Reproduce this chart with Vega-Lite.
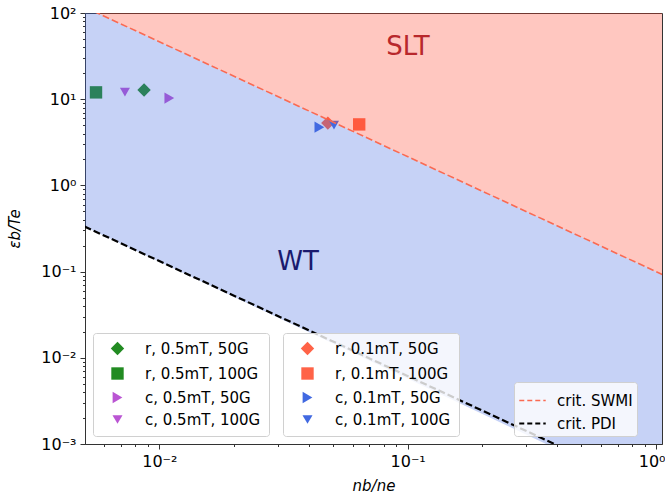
{
  "$schema": "https://vega.github.io/schema/vega-lite/v6.json",
  "width": 577,
  "height": 431,
  "autosize": {"type": "none"},
  "padding": {"left": 85, "top": 13, "right": 3, "bottom": 52},
  "background": "white",
  "config": {
    "font": "DejaVu Sans",
    "view": {"stroke": "#333333", "strokeWidth": 1},
    "axis": {
      "labelFont": "DejaVu Sans", "labelFontSize": 16, "labelColor": "black",
      "titleFont": "DejaVu Sans", "titleFontSize": 15, "titleFontStyle": "italic",
      "titleFontWeight": "normal", "titleColor": "black",
      "tickColor": "#333333", "domainColor": "#333333", "grid": false, "tickSize": 5
    }
  },
  "datasets": {
    "pts": [
      {"label": "r, 0.1mT, 50G", "group": "0.1mT", "x": 0.0477, "y": 5.28},
      {"label": "r, 0.1mT, 100G", "group": "0.1mT", "x": 0.0638, "y": 5.1},
      {"label": "c, 0.1mT, 50G", "group": "0.1mT", "x": 0.0441, "y": 4.74},
      {"label": "c, 0.1mT, 100G", "group": "0.1mT", "x": 0.0505, "y": 5.0},
      {"label": "r, 0.5mT, 50G", "group": "0.5mT", "x": 0.00868, "y": 12.8},
      {"label": "r, 0.5mT, 100G", "group": "0.5mT", "x": 0.00556, "y": 12.0},
      {"label": "c, 0.5mT, 50G", "group": "0.5mT", "x": 0.01097, "y": 10.3},
      {"label": "c, 0.5mT, 100G", "group": "0.5mT", "x": 0.00727, "y": 12.1}
    ],
    "lines": [
      {"crit": "crit. SWMI", "x": 0.005, "y": 117.0},
      {"crit": "crit. SWMI", "x": 1.06, "y": 0.0925},
      {"crit": "crit. PDI", "x": 0.005, "y": 0.3334},
      {"crit": "crit. PDI", "x": 0.39, "y": 0.001}
    ],
    "fills": [
      {"region": "SLT", "x": 0.005, "lo": 117.0, "hi": 1000},
      {"region": "SLT", "x": 1.06, "lo": 0.0925, "hi": 1000},
      {"region": "WT", "x": 0.005, "lo": 0.3334, "hi": 117.0},
      {"region": "WT", "x": 0.39, "lo": 0.0009, "hi": 0.3509},
      {"region": "WT", "x": 1.06, "lo": 0.0009, "hi": 0.0925}
    ],
    "notes": [
      {"label": "SLT", "x": 0.1003, "y": 40.6},
      {"label": "WT", "x": 0.0362, "y": 0.129}
    ]
  },
  "layer": [
    {
      "data": {"name": "pts"},
      "transform": [{"filter": "datum.group === '0.5mT'"}],
      "mark": {"type": "point", "filled": true, "opacity": 1, "clip": true},
      "encoding": {
        "x": {
          "field": "x", "type": "quantitative",
          "scale": {"type": "log", "domain": [0.00502, 1.057], "nice": false},
          "axis": {
            "title": "nb/ne", "values": [0.01, 0.1, 1],
            "labelExpr": "datum.value < 0.05 ? '10⁻²' : datum.value < 0.5 ? '10⁻¹' : '10⁰'",
            "labelPadding": 4, "titlePadding": 9, "labelFlush": 10, "labelFlushOffset": 9
          }
        },
        "y": {
          "field": "y", "type": "quantitative",
          "scale": {"type": "log", "domain": [0.001, 100], "nice": false},
          "axis": {
            "title": "εb/Te", "values": [0.001, 0.01, 0.1, 1, 10, 100],
            "labelExpr": "datum.value >= 50 ? '10²' : datum.value >= 5 ? '10¹' : datum.value >= 0.5 ? '10⁰' : datum.value >= 0.05 ? '10⁻¹' : datum.value >= 0.005 ? '10⁻²' : '10⁻³'",
            "labelPadding": 4, "titlePadding": 18
          }
        },
        "color": {
          "field": "label", "type": "nominal",
          "scale": {"domain": ["r, 0.5mT, 50G", "r, 0.5mT, 100G", "c, 0.5mT, 50G", "c, 0.5mT, 100G"],
                    "range": ["#228b22", "#228b22", "#ba55d3", "#ba55d3"]},
          "legend": {"orient": "none", "legendX": 8, "legendY": 320, "title": null,
                     "fillColor": "rgba(255,255,255,0.8)", "strokeColor": "#d0d0d0", "cornerRadius": 3,
                     "padding": 8, "labelFontSize": 15, "labelFont": "DejaVu Sans", "labelColor": "black",
                     "symbolOffset": 9, "labelOffset": 20, "rowPadding": 5, "symbolSize": 100, "symbolOpacity": 1}
        },
        "shape": {
          "field": "label", "type": "nominal",
          "scale": {"domain": ["r, 0.5mT, 50G", "r, 0.5mT, 100G", "c, 0.5mT, 50G", "c, 0.5mT, 100G"],
                    "range": ["diamond", "square", "triangle-right", "triangle-down"]},
          "legend": {"orient": "none", "legendX": 8, "legendY": 320, "title": null,
                     "fillColor": "rgba(255,255,255,0.8)", "strokeColor": "#d0d0d0", "cornerRadius": 3,
                     "padding": 8, "labelFontSize": 15, "labelFont": "DejaVu Sans", "labelColor": "black",
                     "symbolOffset": 9, "labelOffset": 20, "rowPadding": 5, "symbolSize": 100, "symbolOpacity": 1}
        },
        "size": {
          "field": "label", "type": "nominal",
          "scale": {"domain": ["r, 0.5mT, 50G", "r, 0.5mT, 100G", "c, 0.5mT, 50G", "c, 0.5mT, 100G"],
                    "range": [180, 100, 120, 120]},
          "legend": null
        }
      }
    },
    {
      "data": {"name": "pts"},
      "transform": [{"filter": "datum.group === '0.1mT'"}],
      "mark": {"type": "point", "filled": true, "opacity": 1, "clip": true},
      "encoding": {
        "x": {"field": "x", "type": "quantitative", "axis": null},
        "y": {"field": "y", "type": "quantitative", "axis": null},
        "color": {
          "field": "label", "type": "nominal",
          "scale": {"domain": ["r, 0.1mT, 50G", "r, 0.1mT, 100G", "c, 0.1mT, 50G", "c, 0.1mT, 100G"],
                    "range": ["#ff6347", "#ff6347", "#4169e1", "#4169e1"]},
          "legend": {"orient": "none", "legendX": 198, "legendY": 320, "title": null,
                     "fillColor": "rgba(255,255,255,0.8)", "strokeColor": "#d0d0d0", "cornerRadius": 3,
                     "padding": 8, "labelFontSize": 15, "labelFont": "DejaVu Sans", "labelColor": "black",
                     "symbolOffset": 9, "labelOffset": 20, "rowPadding": 5, "symbolSize": 100, "symbolOpacity": 1}
        },
        "shape": {
          "field": "label", "type": "nominal",
          "scale": {"domain": ["r, 0.1mT, 50G", "r, 0.1mT, 100G", "c, 0.1mT, 50G", "c, 0.1mT, 100G"],
                    "range": ["diamond", "square", "triangle-right", "triangle-down"]},
          "legend": {"orient": "none", "legendX": 198, "legendY": 320, "title": null,
                     "fillColor": "rgba(255,255,255,0.8)", "strokeColor": "#d0d0d0", "cornerRadius": 3,
                     "padding": 8, "labelFontSize": 15, "labelFont": "DejaVu Sans", "labelColor": "black",
                     "symbolOffset": 9, "labelOffset": 20, "rowPadding": 5, "symbolSize": 100, "symbolOpacity": 1}
        },
        "size": {
          "field": "label", "type": "nominal",
          "scale": {"domain": ["r, 0.1mT, 50G", "r, 0.1mT, 100G", "c, 0.1mT, 50G", "c, 0.1mT, 100G"],
                    "range": [180, 100, 120, 120]},
          "legend": null
        }
      }
    },
    {
      "data": {"name": "fills"},
      "transform": [{"filter": "datum.region === 'SLT'"}],
      "mark": {"type": "area", "color": "#ff472d", "opacity": 0.3, "clip": true},
      "encoding": {
        "x": {"field": "x", "type": "quantitative",
              "axis": {"orient": "bottom", "title": null, "labels": false, "domain": false, "tickSize": 2.5,
                       "values": [0.006, 0.007, 0.008, 0.009, 0.02, 0.03, 0.04, 0.05, 0.06, 0.07, 0.08, 0.09, 0.2, 0.3, 0.4, 0.5, 0.6, 0.7, 0.8, 0.9]}},
        "y": {"field": "lo", "type": "quantitative",
              "axis": {"orient": "left", "title": null, "labels": false, "domain": false, "tickSize": 2.5,
                       "values": [0.002, 0.003, 0.004, 0.005, 0.006, 0.007, 0.008, 0.009, 0.02, 0.03, 0.04, 0.05, 0.06, 0.07, 0.08, 0.09, 0.2, 0.3, 0.4, 0.5, 0.6, 0.7, 0.8, 0.9, 2, 3, 4, 5, 6, 7, 8, 9, 20, 30, 40, 50, 60, 70, 80, 90]}},
        "y2": {"field": "hi"}
      }
    },
    {
      "data": {"name": "fills"},
      "transform": [{"filter": "datum.region === 'WT'"}],
      "mark": {"type": "area", "color": "#4169e1", "opacity": 0.3, "clip": true},
      "encoding": {
        "x": {"field": "x", "type": "quantitative", "axis": null},
        "y": {"field": "lo", "type": "quantitative", "axis": null},
        "y2": {"field": "hi"}
      }
    },
    {
      "data": {"name": "lines"},
      "mark": {"type": "line", "strokeDash": [7, 3], "clip": true},
      "encoding": {
        "x": {"field": "x", "type": "quantitative", "axis": null},
        "y": {"field": "y", "type": "quantitative", "axis": null},
        "color": {
          "field": "crit", "type": "nominal",
          "scale": {"domain": ["crit. SWMI", "crit. PDI"], "range": ["#fa6a52", "#000000"]},
          "legend": {"orient": "none", "legendX": 429, "legendY": 369, "title": null,
                     "fillColor": "rgba(255,255,255,0.8)", "strokeColor": "#d0d0d0", "cornerRadius": 3,
                     "padding": 4, "labelFontSize": 15, "labelFont": "DejaVu Sans", "labelColor": "black",
                     "symbolType": "stroke", "symbolSize": 700, "symbolDash": [5, 3], "symbolStrokeWidth": 2,
                     "labelOffset": 10, "rowPadding": 0, "symbolOpacity": 1}
        },
        "strokeWidth": {
          "field": "crit", "type": "nominal",
          "scale": {"domain": ["crit. SWMI", "crit. PDI"], "range": [1.6, 2.2]},
          "legend": null
        }
      }
    },
    {
      "data": {"name": "notes"},
      "transform": [{"filter": "datum.label === 'SLT'"}],
      "mark": {"type": "text", "fontSize": 26, "font": "DejaVu Sans", "color": "#b8282c"},
      "encoding": {
        "x": {"field": "x", "type": "quantitative", "axis": null},
        "y": {"field": "y", "type": "quantitative", "axis": null},
        "text": {"field": "label"}
      }
    },
    {
      "data": {"name": "notes"},
      "transform": [{"filter": "datum.label === 'WT'"}],
      "mark": {"type": "text", "fontSize": 26, "font": "DejaVu Sans", "color": "#1a1a6e"},
      "encoding": {
        "x": {"field": "x", "type": "quantitative", "axis": null},
        "y": {"field": "y", "type": "quantitative", "axis": null},
        "text": {"field": "label"}
      }
    }
  ],
  "resolve": {
    "scale": {"color": "independent", "shape": "independent", "size": "independent", "strokeWidth": "independent"},
    "axis": {"x": "independent", "y": "independent"}
  }
}
